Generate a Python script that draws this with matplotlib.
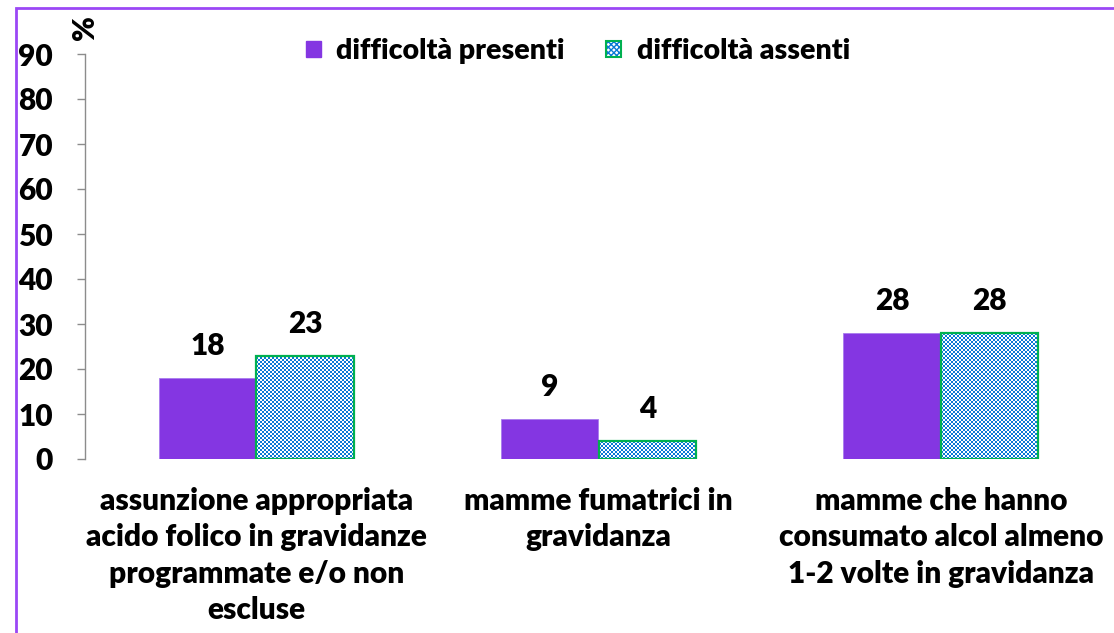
import numpy as np
import matplotlib
matplotlib.use("Agg")
import matplotlib.pyplot as plt
from matplotlib.colors import ListedColormap
from matplotlib.patches import Patch, Rectangle
from matplotlib.legend_handler import HandlerTuple

categories = [
    "assunzione appropriata\nacido folico in gravidanze\nprogrammate e/o non\nescluse",
    "mamme fumatrici in\ngravidanza",
    "mamme che hanno\nconsumato alcol almeno\n1-2 volte in gravidanza",
]
presenti = [18, 9, 28]
assenti = [23, 4, 28]
series_names = ["difficoltà presenti", "difficoltà assenti"]
yticks = [0, 10, 20, 30, 40, 50, 60, 70, 80, 90]

PURPLE = "#8436E2"
BLUE = "#0A78D6"
GREEN = "#00B050"
FONT = "Lato"
WEIGHT = "heavy"
FS = 21.5

plt.rcParams["font.family"] = FONT
plt.rcParams["font.weight"] = WEIGHT

fig = plt.figure(figsize=(11.14, 6.33), dpi=100)
ax = fig.add_axes([85 / 1114, 174 / 633, 1027 / 1114, 405 / 633])

x = np.arange(len(categories))
w = 0.285
ax.set_xlim(-0.5, 2.5)
ax.set_ylim(0, 90)

bars1 = ax.bar(x - w / 2, presenti, w, color=PURPLE, edgecolor="#A97BEE", linewidth=0.6, zorder=2)
bars2 = ax.bar(x + w / 2, assenti, w, facecolor="none", edgecolor=GREEN, linewidth=1.6, zorder=4)

# checkerboard fill inside the "assenti" bars, 2px cells
ppx = ax.get_position().width * fig.get_figwidth() * fig.dpi / 3.0
ppy = ax.get_position().height * fig.get_figheight() * fig.dpi / 90.0
cmap = ListedColormap(["white", BLUE])
for b in bars2:
    bx, by = b.get_x(), b.get_y()
    bw, bh = b.get_width(), b.get_height()
    nx = max(1, int(round(bw * ppx / 2)))
    ny = max(1, int(round(bh * ppy / 2)))
    ii, jj = np.indices((ny, nx))
    checker = (ii + jj) % 2
    ax.imshow(checker, cmap=cmap, extent=(bx, bx + bw, by, by + bh),
              interpolation="nearest", aspect="auto", zorder=3, vmin=0, vmax=1)
ax.set_xlim(-0.5, 2.5)
ax.set_ylim(0, 90)

for bars, vals in ((bars1, presenti), (bars2, assenti)):
    for b, v in zip(bars, vals):
        ax.annotate(str(v), (b.get_x() + b.get_width() / 2, v), xytext=(0, 23),
                    textcoords="offset points", ha="center", va="center",
                    fontsize=FS, fontweight=WEIGHT)

ax.set_yticks(yticks)
ax.set_yticklabels([str(t) for t in yticks], fontsize=FS, fontweight=WEIGHT)
ax.tick_params(axis="y", direction="out", length=6, width=1, color="#8c8c8c", pad=17)
ax.set_xticks(x)
ax.set_xticklabels(categories, fontsize=FS, fontweight=WEIGHT, linespacing=1.37)
ax.tick_params(axis="x", length=0, pad=20)

for s in ["top", "right", "bottom"]:
    ax.spines[s].set_visible(False)
ax.spines["left"].set_color("#8c8c8c")
ax.spines["left"].set_linewidth(1)

fig.text(85 / 1114, 1 - 28 / 633, "%", rotation=90, ha="center", va="center",
         fontsize=FS, fontweight=WEIGHT)

h1 = Patch(facecolor=PURPLE, edgecolor=PURPLE)
h2 = (Patch(facecolor="white", edgecolor=BLUE, hatch="xxxxxx", linewidth=0),
      Patch(facecolor="none", edgecolor=GREEN, linewidth=1.5))
fig.legend([h1, h2], series_names, loc="center", bbox_to_anchor=(578 / 1114, 1 - 51 / 633),
           ncol=2, frameon=False, handlelength=0.53, handleheight=0.53,
           handletextpad=0.55, columnspacing=1.45,
           handler_map={tuple: HandlerTuple(ndivide=1, pad=0)},
           prop={"family": FONT, "weight": WEIGHT, "size": 20.5})

# outer chart-area frame
fig.patches.append(Rectangle((16 / 1114, -0.05), 1.2, 1 - 8 / 633 + 0.05,
                             transform=fig.transFigure, fill=False,
                             edgecolor="#9B47F5", linewidth=2))

fig.savefig("out.png", dpi=100)
